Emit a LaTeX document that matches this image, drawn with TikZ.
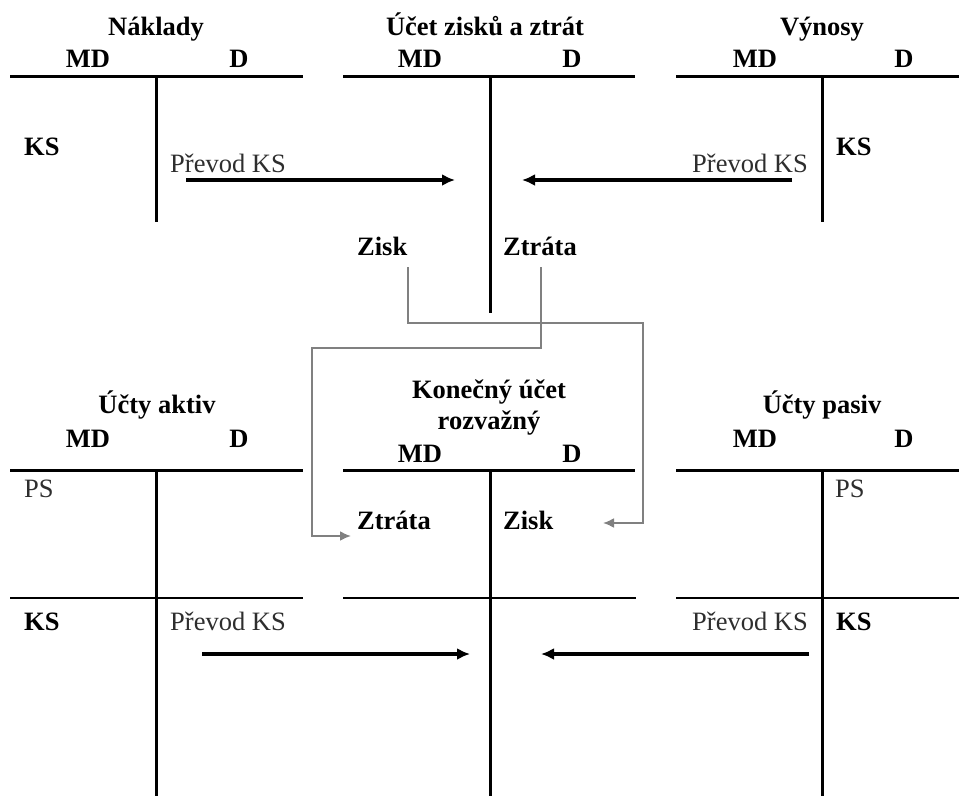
\documentclass[tikz,border=0pt]{standalone}
\usepackage{fontspec}
\setmainfont{Liberation Serif}
\usetikzlibrary{arrows.meta, positioning}
\tikzset{every node/.append style={inner sep=0pt, anchor=base}}

\begin{document}
\begin{tikzpicture}[x=1pt, y=-1pt,
    font=\fontsize{26.5}{30}\selectfont,
    head/.style={font=\fontsize{26.5}{30}\selectfont\bfseries},
    side/.style={font=\fontsize{26.5}{30}\selectfont\bfseries, anchor=base west},
    note/.style={black!82, anchor=base west},
    rule/.style={line width=3pt},
    thinrule/.style={line width=1.3pt},
    move/.style={-{Latex[length=13pt, width=12pt]}, line width=3.2pt},
    flow/.style={-{Latex[length=11pt, width=10pt]}, line width=2pt, gray}]
\useasboundingbox (0,0) rectangle (959,796);

% Naklady
\node[head] (nk) at (156,35) {Náklady};
\node[head] (nkmd) at (88,67) {MD};
\node[head] (nkd) at (239,67) {D};
\node[side] (nkks) at (24,155) {KS};
\node[note] (nkpk) at (170,172) {Převod KS};
\draw[rule] (10,76) -- (303,76);
\draw[rule] (156,76) -- (156,222);

% ucet zisku a ztrat
\node[head] (zz) at (485,35) {Účet zisků a ztrát};
\node[head] (zzmd) at (420,67) {MD};
\node[head] (zzd) at (572,67) {D};
\node[side] (zzzisk) at (357,255) {Zisk};
\node[side] (zzztr) at (503,255) {Ztráta};
\draw[rule] (343,76) -- (635,76);
\draw[rule] (490,76) -- (490,313);

% Vynosy
\node[head] (vy) at (822,35) {Výnosy};
\node[head] (vymd) at (755,67) {MD};
\node[head] (vyd) at (904,67) {D};
\node[side] (vyks) at (836,155) {KS};
\node[note, anchor=base east] (vypk) at (808,172) {Převod KS};
\draw[rule] (676,76) -- (959,76);
\draw[rule] (822,76) -- (822,222);

\coordinate (nk-out) at (186,180);
\coordinate (zz-inl) at (455,180);
\coordinate (vy-out) at (792,180);
\coordinate (zz-inr) at (522,180);
\draw[move] (nk-out) -- (zz-inl);
\draw[move] (vy-out) -- (zz-inr);

% Ucty aktiv
\node[head] (ak) at (157,413) {Účty aktiv};
\node[head] (akmd) at (88,447) {MD};
\node[head] (akd) at (239,447) {D};
\node[note] (akps) at (24,497) {PS};
\node[side] (akks) at (24,630) {KS};
\node[note] (akpk) at (170,630) {Převod KS};
\draw[rule] (10,470) -- (303,470);
\draw[rule] (156,470) -- (156,796);
\draw[thinrule] (10,598) -- (303,598);

% Konecny ucet rozvazny
\node[head] (kur) at (489,398) {Konečný účet};
\node[head, anchor=north, below=6.5pt of kur] (kur2) {rozvažný};
\node[head] (kurmd) at (420,462) {MD};
\node[head] (kurd) at (572,462) {D};
\node[side] (kurztr) at (357,529) {Ztráta};
\node[side] (kurzisk) at (503,529) {Zisk};
\draw[rule] (343,470) -- (635,470);
\draw[rule] (490,470) -- (490,796);
\draw[thinrule] (343,598) -- (636,598);

% Ucty pasiv
\node[head] (pa) at (822,413) {Účty pasiv};
\node[head] (pamd) at (755,447) {MD};
\node[head] (pad) at (904,447) {D};
\node[note] (paps) at (835,497) {PS};
\node[side] (paks) at (836,630) {KS};
\node[note, anchor=base east] (papk) at (808,630) {Převod KS};
\draw[rule] (676,470) -- (959,470);
\draw[rule] (822,470) -- (822,796);
\draw[thinrule] (676,598) -- (959,598);

\coordinate (ak-out) at (202,654);
\coordinate (kur-inl) at (470,654);
\coordinate (pa-out) at (809,654);
\coordinate (kur-inr) at (541,654);
\draw[move] (ak-out) -- (kur-inl);
\draw[move] (pa-out) -- (kur-inr);

% zisk / ztrata
\coordinate (rbend) at (643,323);
\coordinate (lbend) at (312,348);
\coordinate (zisk-tip) at (603,523);
\coordinate (ztr-tip) at (351,536);
\draw[flow] ([shift={(1,12)}]zzzisk.south east) |- (rbend) |- (zisk-tip);
\draw[flow] ([shift={(1,12)}]zzztr.south) |- (lbend) |- (ztr-tip);
\end{tikzpicture}
\end{document}
